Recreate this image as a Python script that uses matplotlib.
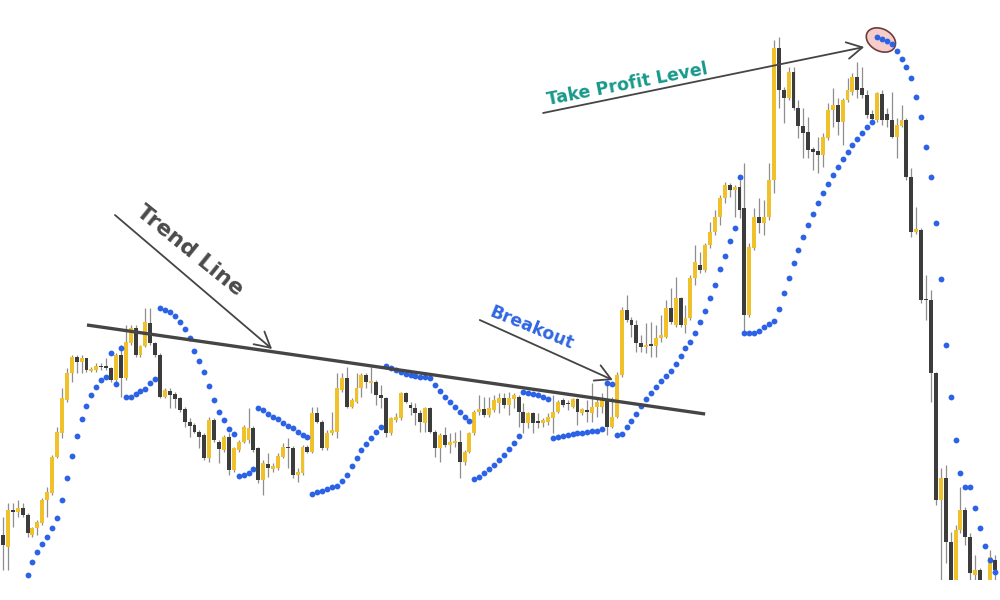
import numpy as np
import matplotlib
matplotlib.use("Agg")
from matplotlib import pyplot as plt
from matplotlib.patches import Ellipse
import matplotlib.transforms as mtransforms

# OHLC in price points, one candle per bar
opens = [65, 53, 90, 88, 92, 85, 65, 72, 77, 100,
         107, 143, 167, 200, 227, 243, 238, 242, 229, 230,
         234, 233, 232, 220, 245, 222, 257, 272, 245, 254,
         277, 257, 245, 203, 209, 206, 202, 191, 178, 175,
         168, 165, 142, 180, 158, 150, 163, 130, 150, 158,
         160, 172, 152, 120, 136, 131, 132, 143, 153, 152,
         125, 127, 153, 148, 187, 178, 152, 167, 168, 210,
         222, 193, 198, 212, 225, 217, 218, 205, 202, 167,
         180, 182, 207, 195, 192, 187, 177, 192, 168, 152,
         165, 155, 157, 158, 138, 148, 167, 188, 191, 185,
         190, 197, 202, 195, 201, 203, 188, 177, 187, 178,
         177, 178, 182, 188, 200, 197, 193, 201, 187, 190,
         187, 193, 193, 200, 173, 183, 225, 290, 280, 275,
         257, 253, 256, 254, 262, 263, 292, 275, 302, 275,
         282, 322, 335, 330, 355, 368, 383, 402, 415, 410,
         413, 392, 285, 352, 383, 377, 383, 420, 552, 510,
         502, 528, 492, 474, 468, 451, 449, 445, 462, 490,
         495, 478, 500, 508, 523, 512, 505, 486, 480, 506,
         486, 480, 463, 474, 480, 423, 368, 370, 301, 300,
         227, 100, 122, 58, 10, 70, 90, 63, 25, 30,
         15, 10, 40]
closes = [55, 90, 88, 92, 85, 67, 72, 78, 100, 108,
          143, 168, 202, 227, 243, 238, 242, 230, 231, 234,
          233, 233, 220, 245, 222, 258, 272, 245, 254, 278,
          257, 245, 203, 210, 205, 201, 190, 178, 174, 168,
          163, 142, 180, 160, 151, 163, 130, 152, 158, 173,
          172, 150, 120, 137, 132, 134, 144, 153, 152, 125,
          128, 153, 148, 187, 178, 152, 167, 170, 212, 222,
          193, 200, 212, 225, 218, 219, 205, 202, 167, 182,
          183, 207, 198, 192, 187, 178, 192, 168, 152, 165,
          155, 158, 159, 138, 148, 167, 188, 191, 185, 192,
          200, 202, 195, 202, 205, 188, 177, 187, 177, 178,
          180, 183, 188, 198, 195, 196, 201, 188, 191, 188,
          193, 198, 200, 173, 183, 225, 290, 280, 275, 257,
          253, 255, 254, 262, 265, 292, 278, 302, 275, 282,
          322, 338, 330, 355, 368, 383, 402, 415, 410, 413,
          390, 285, 353, 383, 377, 383, 420, 552, 510, 502,
          528, 492, 474, 467, 450, 448, 445, 463, 490, 495,
          478, 500, 510, 523, 510, 505, 485, 481, 507, 480,
          480, 463, 475, 480, 423, 368, 371, 300, 300, 227,
          100, 122, 58, 20, 70, 90, 63, 27, 30, 15,
          -10, 43, 30]
highs = [83, 97, 97, 100, 97, 87, 73, 80, 102, 113,
         145, 173, 212, 232, 245, 245, 245, 242, 233, 237,
         237, 242, 233, 247, 255, 275, 275, 275, 255, 292,
         292, 258, 247, 212, 212, 208, 203, 193, 182, 177,
         170, 167, 183, 182, 160, 165, 167, 153, 160, 175,
         192, 174, 153, 140, 147, 137, 147, 157, 162, 154,
         132, 155, 155, 193, 193, 180, 170, 188, 227, 227,
         233, 202, 227, 227, 227, 233, 220, 215, 203, 183,
         187, 208, 208, 198, 197, 190, 193, 193, 170, 167,
         173, 167, 168, 170, 150, 168, 190, 205, 203, 203,
         205, 207, 207, 208, 207, 205, 197, 188, 188, 187,
         182, 187, 205, 200, 202, 200, 202, 202, 192, 200,
         217, 203, 207, 220, 203, 228, 293, 305, 283, 280,
         265, 277, 278, 275, 285, 300, 312, 323, 303, 295,
         325, 355, 348, 357, 378, 390, 405, 418, 417, 415,
         420, 437, 357, 392, 402, 400, 437, 560, 563, 513,
         533, 533, 500, 492, 483, 453, 463, 467, 497, 512,
         502, 502, 522, 527, 538, 533, 510, 490, 508, 510,
         492, 508, 482, 495, 482, 432, 393, 372, 325, 310,
         228, 132, 135, 68, 75, 113, 93, 67, 45, 32,
         18, 50, 45]
lows = [30, 30, 73, 83, 83, 63, 63, 65, 75, 83,
        105, 142, 162, 198, 218, 227, 227, 228, 228, 228,
        230, 230, 218, 218, 203, 220, 255, 243, 243, 253,
        255, 243, 202, 202, 192, 192, 188, 173, 163, 167,
        152, 140, 138, 158, 137, 148, 125, 128, 148, 157,
        157, 148, 117, 105, 123, 128, 130, 142, 132, 122,
        118, 125, 147, 147, 177, 150, 150, 165, 162, 208,
        192, 192, 197, 203, 212, 207, 195, 192, 163, 165,
        178, 180, 197, 185, 175, 168, 168, 167, 143, 138,
        153, 147, 153, 122, 135, 147, 165, 185, 183, 183,
        188, 187, 192, 185, 192, 173, 167, 172, 167, 172,
        173, 175, 167, 187, 193, 190, 192, 175, 185, 178,
        178, 183, 187, 165, 172, 182, 223, 278, 263, 248,
        248, 247, 243, 243, 258, 262, 276, 273, 273, 267,
        280, 315, 327, 328, 352, 365, 375, 397, 403, 383,
        382, 267, 283, 350, 367, 365, 380, 407, 492, 477,
        500, 490, 462, 442, 442, 430, 427, 433, 460, 473,
        465, 455, 498, 505, 502, 502, 482, 479, 478, 475,
        473, 462, 442, 473, 420, 363, 366, 297, 280, 198,
        95, 20, 37, 10, 5, 67, 55, 20, 20, 10,
        -20, 5, 20]

# Parabolic SAR dots (nan = below the visible chart)
nan = np.nan
sar = [nan, nan, nan, nan, nan, 25, 38, 48, 56, 63,
       72, 82, 100, 122, 144, 164, 181, 194, 205, 213,
       220, 223, 247, 216, 252, 203, 203, 206, 209, 211,
       217, 221, 292, 290, 288, 284, 278, 271, 262, 249,
       239, 228, 214, 200, 188, 180, 171, 166, 124, 125,
       127, 131, 192, 190, 186, 183, 181, 177, 174, 172,
       168, 165, 163, 106, 108, 109, 111, 113, 114, 119,
       125, 134, 142, 150, 156, 162, 168, 173, 234, 232,
       230, 228, 226, 225, 224, 223, 223, 222, 215, 209,
       203, 198, 193, 188, 183, 179, 121, 123, 127, 131,
       135, 140, 145, 151, 157, 164, 208, 207, 206, 205,
       203, 201, 162, 163, 164, 165, 166, 167, 167, 168,
       169, 169, 171, 217, 216, 165, 166, 173, 179, 186,
       194, 201, 207, 213, 219, 224, 229, 236, 244, 252,
       258, 267, 278, 289, 302, 315, 331, 344, 359, 372,
       423, 267, 267, 267, 269, 273, 276, 279, 291, 307,
       322, 337, 350, 363, 375, 386, 397, 407, 416, 425,
       433, 441, 448, 455, 461, 467, 473, 478, 563, 561,
       559, 556, 549, 541, 533, 522, 503, 483, 453, 423,
       377, 321, 255, 203, 160, 127, 113, 113, 92, 72,
       54, 40, 28]

# annotation anchors (bar index, price)
trend_line = [(17.1, 275), (143.0, 186)]
trend_arrow = [(22.8, 385), (54.8, 251)]
trend_label = (38.0, 349)
breakout_arrow = [(97.1, 280), (124.2, 220)]
breakout_label = (107.7, 272)
tp_arrow = [(110.0, 487), (175.4, 553)]
tp_label = (127.1, 516)
tp_circle = (178.8, 560)

YELLOW = '#F0C12B'
DARK = '#3c3c3c'
WICK = '#8e8e8e'
BLUE = '#2c62e6'
LINE = '#454545'

o = np.array(opens, float)
c = np.array(closes, float)
h = np.array(highs, float)
l = np.array(lows, float)
x = np.arange(len(o))
up = c > o

fig = plt.figure(figsize=(10, 6), dpi=100)
ax = fig.add_axes([0, 20 / 600, 1, 580 / 600])
ax.set_axis_off()
ax.set_xlim(-3 / 4.91, 997 / 4.91)
ax.set_ylim(20, 600)

ax.vlines(x, l, h, color=WICK, lw=0.9, zorder=1)
body_h = np.maximum(np.abs(c - o), 1.5)
body_mid = (o + c) / 2
body_lo = body_mid - body_h / 2
ax.bar(x[up], body_h[up], bottom=body_lo[up], width=0.8, color=YELLOW, zorder=2)
ax.bar(x[~up], body_h[~up], bottom=body_lo[~up], width=0.8, color=DARK, zorder=2)

ax.plot(x, sar, 'o', ms=4.2, color=BLUE, mec='none', zorder=4)

# trend line
ax.plot([p[0] for p in trend_line], [p[1] for p in trend_line],
        color=LINE, lw=2.4, solid_capstyle='butt', zorder=5)

arrow_kw = dict(arrowstyle='->,head_length=0.55,head_width=0.3', color=LINE,
                lw=1.3, shrinkA=0, shrinkB=0, mutation_scale=20)
for a in (trend_arrow, breakout_arrow, tp_arrow):
    ax.annotate('', xy=a[1], xytext=a[0], arrowprops=arrow_kw, zorder=5)

ax.text(*trend_label, 'Trend Line', rotation=-39, rotation_mode='anchor',
        ha='center', va='center', fontsize=16, fontweight='bold', color='#4a4a4a')
ax.text(*breakout_label, 'Breakout', rotation=-22, rotation_mode='anchor',
        ha='center', va='center', fontsize=12.5, fontweight='bold', color='#2f66e2')
ax.text(*tp_label, 'Take Profit Level', rotation=11, rotation_mode='anchor',
        ha='center', va='center', fontsize=12.5, fontweight='bold', color='#17998a')

trans = fig.dpi_scale_trans + mtransforms.ScaledTranslation(tp_circle[0], tp_circle[1], ax.transData)
ax.add_patch(Ellipse((0, 0), 0.31, 0.22, angle=-28, transform=trans,
                     facecolor='#f6cdc8', edgecolor='#6e3c3c', lw=1.2, zorder=3))

fig.savefig('out.png', dpi=100)
